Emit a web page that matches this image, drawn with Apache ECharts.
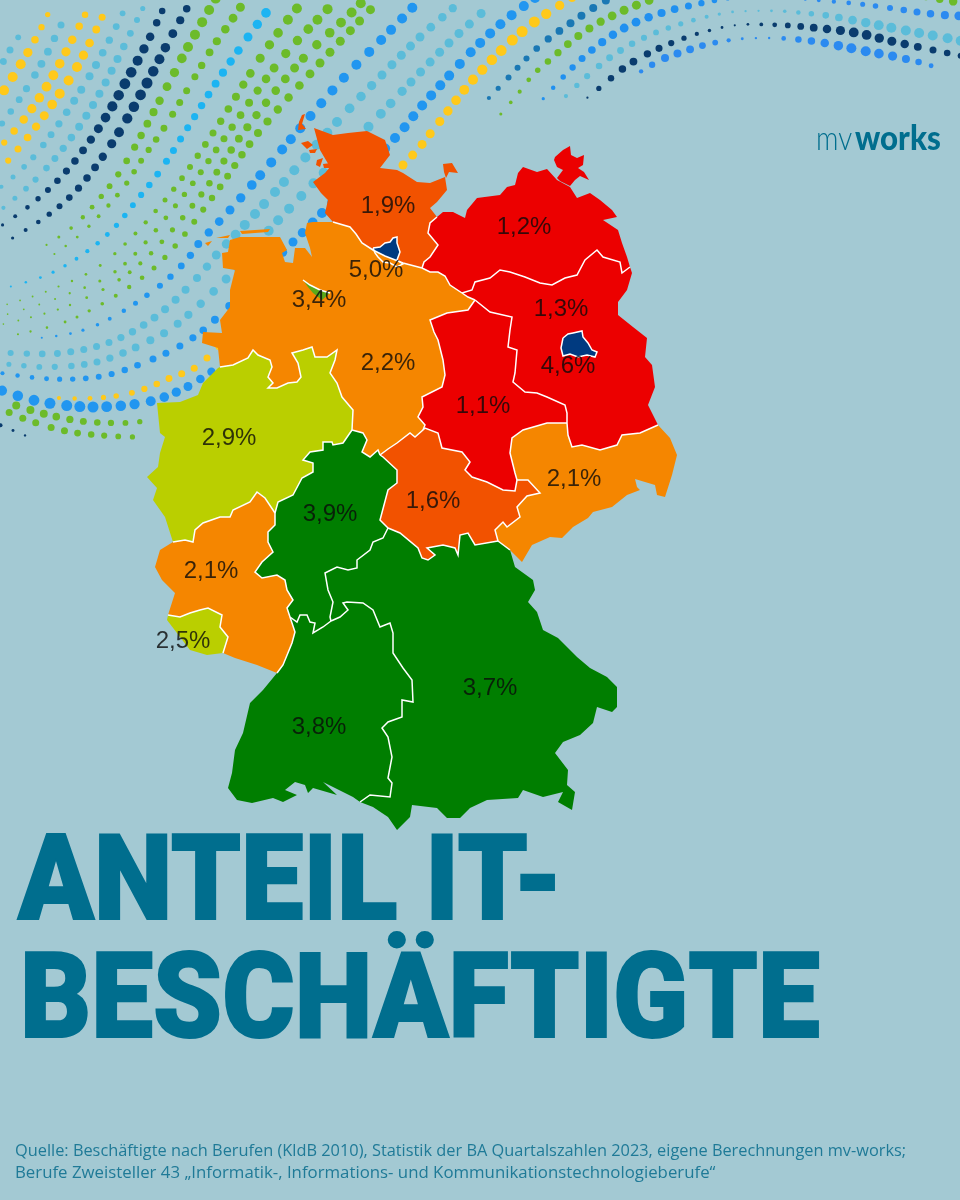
<!DOCTYPE html>
<html lang="de">
<head>
<meta charset="utf-8">
<title>Anteil IT-Beschäftigte</title>
<style>
html,body{margin:0;padding:0;background:#A3C9D3;}
#main{width:960px;height:1200px;}
</style>
<script src="https://cdn.jsdelivr.net/npm/echarts@6/dist/echarts.min.js"></script>
</head>
<body>
<div id="main"></div>
<script>
// Daten: Anteil IT-Beschaeftigte je Bundesland in %
var states = ['Schleswig-Holstein','Hamburg','Niedersachsen','Bremen','Mecklenburg-Vorpommern','Brandenburg','Berlin','Sachsen-Anhalt','Nordrhein-Westfalen','Sachsen','Thüringen','Hessen','Rheinland-Pfalz','Saarland','Baden-Württemberg','Bayern'];
var shares = [1.9,5.0,2.2,3.4,1.2,1.3,4.6,1.1,2.9,2.1,1.6,3.9,2.1,2.5,3.8,3.7];
var titleLines = ['ANTEIL IT-','BESCHÄFTIGTE'];
var sourceLines = ['Quelle: Beschäftigte nach Berufen (KldB 2010), Statistik der BA Quartalszahlen 2023, eigene Berechnungen mv-works;','Berufe Zweisteller 43 „Informatik-, Informations- und Kommunikationstechnologieberufe“'];

// Farbstufen
var classes = [
	{lt:1.5,color:'#EC0000'},
	{gte:1.5,lt:2,color:'#F25200'},
	{gte:2,lt:2.5,color:'#F58600'},
	{gte:2.5,lt:3,color:'#BACF00'},
	{gte:3,lt:3.5,color:'#5BA91A'},
	{gte:3.5,lt:4.5,color:'#007E00'},
	{gte:4.5,color:'#003A80'}
];

// Beschriftungspunkte (Bildpixel)
var labelAt = [[388,206],[376,270],[388,363],[319,300],[524,227],[561,309],[568,366],[483,406],[229,438],[574,479],[433,501],[330,514],[211,571],[183,641],[319,727],[490,688]];

// Grenzen als Boegen in Bildpixeln, gemeinsame Boegen fuer Nachbarlaender
var arcs = {
	o_sh:[[333,222],[325,213],[328,200],[321,193],[313,182],[325,173],[330,167],[320,150],[314,128],[333,135],[348,133],[367,131],[385,140],[390,155],[380,168],[397,170],[403,173],[417,182],[430,183],[445,177],[447,190],[437,202],[430,208],[437,217]],
	sh_mv:[[437,217],[430,223],[428,233],[438,245],[430,257],[424,262],[422,268]],
	sh_ni:[[422,268],[403,263],[385,256],[373,250],[362,243],[356,234],[350,227],[333,222]],
	ni_mv:[[462,293],[450,285],[445,276],[438,272],[430,272],[422,268]],
	ni_bb:[[475,300],[468,297],[462,293]],
	ni_st:[[475,300],[468,310],[447,313],[430,320],[434,332],[438,340],[443,360],[445,375],[442,387],[422,397],[423,407],[418,417],[425,425],[423,430]],
	ni_th:[[423,430],[415,437],[410,433],[397,443],[388,449],[380,455]],
	ni_he:[[380,455],[378,450],[370,457],[362,452],[367,440],[363,433],[352,430]],
	ni_nw:[[220,367],[233,365],[248,358],[253,350],[258,355],[270,360],[272,367],[268,377],[273,383],[268,388],[277,388],[288,383],[297,382],[301,377],[298,363],[292,353],[303,350],[312,347],[315,357],[327,357],[337,350],[335,360],[330,373],[337,383],[342,397],[353,410],[352,430]],
	o_ni:[[220,367],[218,348],[202,343],[203,332],[222,333],[220,320],[230,307],[230,290],[235,270],[223,268],[222,253],[228,252],[230,240],[240,237],[268,237],[280,237],[287,250],[282,253],[285,262],[293,263],[295,248],[305,248],[312,257],[310,248],[305,233],[307,223],[313,222],[333,222]],
	o_mv:[[437,217],[443,212],[453,212],[465,218],[467,210],[477,198],[500,195],[507,187],[515,185],[518,173],[523,167],[537,172],[547,169],[557,180],[570,187],[577,198],[590,193],[600,200],[612,210],[617,217],[603,220],[618,230],[622,243],[627,257],[630,267]],
	mv_bb:[[630,267],[622,273],[620,262],[603,257],[597,250],[585,260],[577,275],[565,278],[552,285],[540,283],[525,277],[510,272],[500,270],[490,278],[475,282],[472,290],[462,293]],
	o_bb:[[630,267],[632,273],[627,290],[618,302],[618,315],[633,327],[647,338],[645,357],[652,365],[655,387],[648,405],[658,425]],
	bb_sn:[[658,425],[640,433],[622,435],[617,445],[600,450],[582,445],[572,447],[568,435],[567,423]],
	bb_st:[[567,423],[567,413],[565,405],[547,397],[537,393],[525,392],[513,382],[515,373],[517,350],[508,347],[510,330],[512,317],[490,312],[475,300]],
	st_sn:[[567,423],[547,423],[523,430],[512,438],[510,453],[515,473],[517,480]],
	st_th:[[423,430],[425,428],[438,433],[442,448],[462,452],[470,462],[465,470],[472,477],[487,482],[503,490],[515,491],[517,480]],
	sn_th:[[517,480],[528,480],[540,493],[527,496],[517,507],[520,517],[507,527],[503,522],[495,530],[498,541]],
	o_sn:[[658,425],[670,438],[677,455],[672,475],[665,497],[657,495],[655,485],[635,479],[637,487],[640,490],[627,495],[612,507],[593,512],[588,518],[573,527],[562,538],[550,537],[532,545],[522,562],[510,550]],
	sn_by:[[510,550],[498,541]],
	th_by:[[498,541],[475,545],[468,533],[460,535],[458,555],[455,548],[443,545],[427,548],[435,555],[428,560],[422,558],[418,548],[400,533],[388,528]],
	he_th:[[380,455],[383,457],[397,470],[397,483],[388,490],[380,520],[388,528]],
	he_nw:[[352,430],[343,443],[333,445],[332,442],[323,442],[323,450],[310,452],[303,460],[313,463],[313,472],[302,478],[293,495],[278,502],[275,513]],
	he_by:[[388,528],[383,538],[373,542],[370,550],[357,560],[357,568],[348,570],[337,567],[325,573],[328,590],[333,602],[330,617],[331,621]],
	he_bw:[[331,621],[323,627],[313,633],[315,623],[310,622],[307,615],[300,615],[297,622],[290,617]],
	he_rp:[[290,617],[287,608],[293,600],[287,590],[285,580],[277,575],[262,578],[255,572],[262,562],[273,552],[268,542],[268,532],[275,525],[275,513]],
	nw_rp:[[275,513],[265,498],[257,492],[250,502],[233,510],[230,517],[220,517],[203,523],[195,530],[193,542],[185,540],[173,542]],
	o_nw:[[173,542],[165,517],[153,500],[157,488],[147,477],[158,467],[160,453],[165,437],[160,433],[157,403],[180,402],[198,395],[203,383],[218,368],[220,367]],
	rp_bw:[[290,617],[295,632],[292,643],[283,665],[277,673]],
	o_rps:[[277,673],[257,665],[235,658],[223,653]],
	rp_sl:[[223,653],[228,637],[220,627],[222,615],[208,608],[200,610],[190,613],[180,617],[168,615]],
	o_sl:[[223,653],[207,655],[190,650],[180,637],[167,620],[168,615]],
	o_rpw:[[168,615],[175,593],[162,580],[155,567],[160,550],[173,542]],
	bw_by:[[360,802],[370,795],[390,797],[392,783],[388,778],[392,757],[388,737],[382,728],[388,722],[402,717],[402,700],[413,702],[412,680],[403,668],[393,653],[393,633],[390,623],[380,627],[373,610],[363,603],[347,602],[343,603],[348,610],[340,617],[331,621]],
	o_by:[[510,550],[515,567],[533,580],[535,590],[528,602],[537,612],[543,630],[558,638],[577,657],[590,668],[607,677],[617,687],[617,707],[612,712],[597,707],[593,723],[580,735],[563,742],[555,753],[568,770],[567,785],[575,792],[572,810],[558,802],[563,792],[543,797],[523,790],[518,798],[487,800],[470,808],[460,818],[447,818],[437,808],[412,805],[410,817],[397,830],[388,817],[373,807],[360,802]],
	o_bw:[[277,673],[263,690],[250,703],[243,733],[235,750],[232,773],[228,788],[237,800],[252,803],[273,798],[283,802],[297,795],[285,790],[295,782],[305,785],[308,793],[313,788],[337,795],[323,782],[353,797],[360,802]]
};
// Stadtstaaten und Inseln
var hamburgRing = [[373,248],[380,247],[385,243],[390,242],[393,238],[397,237],[397,243],[400,252],[397,260],[403,264],[397,267],[390,263],[383,262],[378,257],[375,253]];
var berlinRing = [[563,338],[568,334],[573,333],[582,331],[583,337],[588,343],[592,350],[597,352],[595,357],[587,355],[578,357],[570,354],[563,356],[561,348]];
var bremenRing = [[303,280],[310,285],[320,290],[330,293],[322,300],[313,293],[308,287]];
var islandsSH = [
	[[443,164],[452,163],[458,173],[449,172],[446,178],[444,172]],
	[[302,115],[305,114],[302,124],[306,129],[298,130],[299,122]],
	[[301,143],[308,141],[313,145],[307,149]],
	[[309,150],[317,149],[315,153],[310,153]],
	[[317,160],[323,158],[320,167],[316,165]],
	[[323,164],[331,163],[330,168],[324,168]]
];
var islandsNI = [[[205,243],[212,241],[208,246]],[[216,238],[230,235],[228,238]],[[240,231],[270,229],[268,232],[242,234]]];
var ruegen = [[555,157],[563,150],[570,146],[571,155],[577,158],[584,155],[583,165],[578,168],[584,172],[589,180],[580,176],[575,180],[570,186],[560,181],[557,178],[563,170],[557,167],[554,160]];

// Wellenpunkte oben: [x,y,radius], nur Dekoration
var waves = [
	{c:'#FFC91A',p:[[57,398,2],[97,398,2.5],[135,392,3],[172,377,3.5],[207,358,3.5],[300,262,4],[403,165,4.5],[437,125,4.5],[470,83,5],[507,45,5.5],[537,20,5.5],[572,-2,4]]},
	{c:'#2196F0',p:[[0,390,5],[42,402,5.5],[93,407,5.5],[147,402,5],[185,388,4.5],[217,368,4]]},
	{c:'#2196F0',p:[[0,373,2],[51,379,2.5],[103,376,3],[153,359,3.5],[188,341,3.5],[219,316,4],[293,242,4.5],[322,213,5],[395,138,5],[420,108,5],[447,78,5],[473,50,5],[503,22,5],[535,-2,5]]},
	{c:'#5BBCD9',p:[[8,353,3],[62,353,3.5],[113,341,3.5],[158,315,4],[197,278,4],[218,253,4.5],[240,230,5],[275,192,5],[337,122,5],[382,75,4.5],[420,37,4.5],[460,2,4]]},
	{c:'#5BBCD9',p:[[7,364,2.5],[47,367,3],[97,362,3.5],[147,342,4],[181,321,4],[230,275,4.5],[272,227,5],[309,188,5],[373,122,5],[411,82,4.5],[449,43,4.5],[485,10,4.5]]},
	{c:'#2196F0',p:[[40,338,1],[77,332,1.5],[113,317,2],[157,288,3],[185,262,3.5],[200,242,4],[230,210,4.5],[263,172,5],[297,132,5],[340,82,5],[388,33,5],[415,5,5]]},
	{c:'#6CBB2A',p:[[15,335,1],[77,317,1.5],[154,268,2.5],[212,198,3.2],[258,133,4],[320,63,4.5],[373,7,4.5]]},
	{c:'#6CBB2A',p:[[0,325,0.8],[70,305,1.2],[135,268,2],[197,200,3],[243,133,4],[299,63,4.5],[347,17,5],[362,2,5]]},
	{c:'#6CBB2A',p:[[5,315,0.8],[60,297,1],[120,268,1.8],[180,200,2.6],[228,133,3.6],[278,63,4.5],[320,17,5],[335,2,5]]},
	{c:'#6CBB2A',p:[[5,305,0.8],[50,290,1],[105,262,1.5],[165,200,2.5],[213,133,3.5],[257,63,4.5],[290,17,5],[305,0,5]]},
	{c:'#1CB4F2',p:[[9,287,1],[47,275,1.5],[82,255,2],[112,230,2.5],[137,200,3],[162,168,3.5],[190,124,3.5],[218,80,4],[248,37,4.5],[272,5,5]]},
	{c:'#6CBB2A',p:[[53,255,1],[83,232,1.5],[120,192,2.5],[143,158,3],[166,125,3.5],[193,80,3.5],[213,47,4],[236,14,4.5],[243,3,4.5]]},
	{c:'#6CBB2A',p:[[45,246,1],[77,223,2],[112,183,3],[133,150,3.5],[152,115,4],[170,81,4.5],[188,47,5],[208,12,5],[216,-2,5]]},
	{c:'#0A3C6E',p:[[11,239,1.5],[44,218,2.5],[74,193,3.5],[99,162,4],[121,129,5],[147,83,5.5],[171,37,4.5],[190,3,3.5]]},
	{c:'#0A3C6E',p:[[1,226,1.5],[33,203,2.5],[62,176,3.5],[87,145,4],[109,112,5],[128,78,5.5],[147,43,4.5],[164,7,3]]},
	{c:'#5BBCD9',p:[[2,209,2],[31,184,3],[57,156,3.5],[81,124,4],[101,91,4],[119,56,4],[137,20,3],[143,8,2.5]]},
	{c:'#5BBCD9',p:[[0,188,2],[29,162,3],[53,132,3.5],[76,98,4],[96,65,4],[115,29,3.5],[126,6,2.5]]},
	{c:'#FFC91A',p:[[7,162,3],[32,132,4],[56,99,5],[77,67,5],[95,32,4],[107,7,3]]},
	{c:'#FFC91A',p:[[3,144,3],[28,114,4.5],[50,81,5],[69,46,4.5],[87,11,3]]},
	{c:'#5BBCD9',p:[[1,125,3],[23,94,3.5],[43,61,4],[61,25,3.5],[67,14,3]]},
	{c:'#FFC91A',p:[[3,92,5],[24,59,5],[37,36,3.5],[49,12,2.5]]},
	{c:'#5BBCD9',p:[[3,62,3.5],[10,50,3.5],[23,30,2.5]]},
	{c:'#6CBB2A',p:[[8,412,3.5],[33,422,3.5],[71,432,3.5],[110,436,3],[137,437,2.5]]},
	{c:'#6CBB2A',p:[[15,405,4],[41,413,4],[80,421,3.5],[120,423,3],[146,421,2.5]]},
	{c:'#0A3C6E',p:[[0,425,2],[12,430,1.5],[24,435,1.2],[36,440,1]]},
	{c:'#1A78B4',p:[[488,99,2],[507,79,3],[525,60,3],[543,43,3.5],[565,27,4],[587,12,4],[610,-2,4]]},
	{c:'#6CBB2A',p:[[500,115,1.5],[517,95,2],[533,75,2.5],[553,57,3.5],[573,40,4],[595,25,4],[618,13,4.5],[642,3,4.5],[660,-3,4]]},
	{c:'#2090F0',p:[[542,100,1.5],[568,72,3],[597,46,4],[630,25,4.5],[668,11,4],[707,2,3],[730,-2,2]]},
	{c:'#5BBCD9',p:[[565,97,2],[585,78,3],[615,54,3.5],[650,35,3],[687,22,2.5],[725,13,1.5],[752,11,1],[778,11,1.5],[805,13,2.5],[830,16,3.5],[857,21,4.5],[883,26,5],[908,31,5],[935,36,5],[962,41,5]]},
	{c:'#0A3C6E',p:[[587,98,1],[597,90,2.5],[628,65,4],[662,47,3.5],[700,33,2],[738,25,1],[778,25,2.5],[817,28,4],[857,33,5],[895,42,4.5],[933,50,3.5],[962,56,3]]},
	{c:'#2B8AF0',p:[[640,72,2],[663,59,4],[688,50,4],[713,43,3],[740,39,1.5],[767,38,1],[792,39,3],[818,42,4],[845,47,5],[870,52,5],[897,57,4.5],[922,63,3],[935,67,2]]},
	{c:'#2B8AF0',p:[[790,-2,1],[825,1,2],[860,4,2.5],[890,8,3],[917,12,3.5],[943,15,4],[962,16,4.5]]},
	{c:'#6CBB2A',p:[[925,-3,3],[945,0,4],[962,3,4.5]]}
];

function flip(list){
	var out = [];
	for(var i = 0;i<list.length;i++){
		out.push([list[i][0],-list[i][1]]);
	}
	return out;
}
// Ring aus Boegen zusammensetzen, '-' dreht den Bogen um
function ring(names){
	var pts = [];
	for(var i = 0;i<names.length;i++){
		var n = names[i];
		var a = n.charAt(0) == '-' ? arcs[n.substring(1)].slice().reverse() : arcs[n];
		pts = pts.concat(a);
	}
	pts.push(pts[0]);
	return flip(pts);
}
function closed(list){
	return flip(list.concat([list[0]]));
}
var shapes = {
	'Schleswig-Holstein':[ring(['o_sh','sh_mv','sh_ni'])].concat(islandsSH.map(closed)),
	'Hamburg':[closed(hamburgRing)],
	'Niedersachsen':[ring(['-sh_ni','-ni_mv','-ni_bb','ni_st','ni_th','ni_he','-ni_nw','o_ni'])].concat(islandsNI.map(closed)),
	'Bremen':[closed(bremenRing)],
	'Mecklenburg-Vorpommern':[ring(['o_mv','mv_bb','ni_mv','-sh_mv']),closed(ruegen)],
	'Brandenburg':[ring(['o_bb','bb_sn','bb_st','ni_bb','-mv_bb'])],
	'Berlin':[closed(berlinRing)],
	'Sachsen-Anhalt':[ring(['ni_st','st_th','-st_sn','bb_st'])],
	'Nordrhein-Westfalen':[ring(['ni_nw','he_nw','nw_rp','o_nw'])],
	'Sachsen':[ring(['-bb_sn','o_sn','sn_by','-sn_th','-st_sn'])],
	'Thüringen':[ring(['st_th','sn_th','th_by','-he_th','-ni_th'])],
	'Hessen':[ring(['-ni_he','he_th','he_by','he_bw','he_rp','-he_nw'])],
	'Rheinland-Pfalz':[ring(['-he_rp','rp_bw','o_rps','rp_sl','o_rpw','-nw_rp'])],
	'Saarland':[ring(['-rp_sl','-o_sl'])],
	'Baden-Württemberg':[ring(['-he_bw','-bw_by','-o_bw','-rp_bw'])],
	'Bayern':[ring(['-he_by','-th_by','-sn_by','o_by','bw_by'])]
};
var geoJson = {type:'FeatureCollection',features:[]};
for(var i = 0;i<states.length;i++){
	var rings = shapes[states[i]];
	geoJson.features.push({
		type:'Feature',
		properties:{name:states[i]},
		geometry:{type:'MultiPolygon',coordinates:rings.map(function(r){return [r];})}
	});
}
echarts.registerMap('de',geoJson);

// innere Grenzen als weisse Linien
var innerNames = ['sh_mv','sh_ni','ni_mv','ni_bb','ni_st','ni_th','ni_he','ni_nw','mv_bb','bb_sn','bb_st','st_sn','st_th','sn_th','sn_by','th_by','he_th','he_nw','he_by','he_bw','he_rp','nw_rp','rp_bw','rp_sl','bw_by'];
var borderData = [];
for(var i = 0;i<innerNames.length;i++){
	borderData.push({coords:flip(arcs[innerNames[i]])});
}
borderData.push({coords:closed(hamburgRing)});
borderData.push({coords:closed(berlinRing)});
borderData.push({coords:flip(bremenRing.slice(0,4))});

var mapData = [];
var labelData = [];
for(var i = 0;i<states.length;i++){
	mapData.push({name:states[i],value:shares[i]});
	labelData.push([labelAt[i][0],-labelAt[i][1],shares[i]]);
}

// Catmull-Rom durch die Wellenpunkte, Punkte im festen Abstand
function waveDots(wave,step){
	var p = wave.p;
	var fine = [];
	for(var i = 0;i<p.length-1;i++){
		var a = p[Math.max(i-1,0)],b = p[i],c = p[i+1],d = p[Math.min(i+2,p.length-1)];
		for(var k = 0;k<12;k++){
			var t = k/12,t2 = t*t,t3 = t2*t;
			fine.push([
				0.5*(2*b[0]+(c[0]-a[0])*t+(2*a[0]-5*b[0]+4*c[0]-d[0])*t2+(3*b[0]-a[0]-3*c[0]+d[0])*t3),
				0.5*(2*b[1]+(c[1]-a[1])*t+(2*a[1]-5*b[1]+4*c[1]-d[1])*t2+(3*b[1]-a[1]-3*c[1]+d[1])*t3),
				b[2]+(c[2]-b[2])*t
			]);
		}
	}
	fine.push(p[p.length-1]);
	var els = [];
	var left = step;
	for(var j = 1;j<fine.length;j++){
		var dx = fine[j][0]-fine[j-1][0],dy = fine[j][1]-fine[j-1][1];
		left += Math.sqrt(dx*dx+dy*dy);
		if(left >= step){
			left = 0;
			els.push({type:'circle',silent:true,shape:{cx:fine[j][0],cy:fine[j][1],r:fine[j][2]},style:{fill:wave.c}});
		}
	}
	return els;
}
var graphicEls = [];
for(var i = 0;i<waves.length;i++){
	graphicEls = graphicEls.concat(waveDots(waves[i],12.8));
}
// Titel, Logo, Quelle
var titleColor = '#006E8E';
graphicEls.push({type:'text',silent:true,x:18,y:889,scaleX:0.945,style:{text:titleLines[0],font:'900 118px Roboto',fill:titleColor,stroke:titleColor,lineWidth:2,lineJoin:'round',verticalAlign:'middle'}});
graphicEls.push({type:'text',silent:true,x:20,y:1007,scaleX:0.936,style:{text:titleLines[1],font:'900 118px Roboto',fill:titleColor,stroke:titleColor,lineWidth:2,lineJoin:'round',verticalAlign:'middle'}});
graphicEls.push({type:'text',silent:true,x:816,y:139,scaleX:0.82,style:{text:'mv',font:'300 34px Lato',fill:titleColor,verticalAlign:'middle'}});
graphicEls.push({type:'text',silent:true,x:855,y:139,scaleX:0.92,style:{text:'works',font:'900 34px Lato',fill:titleColor,verticalAlign:'middle'}});
graphicEls.push({type:'text',silent:true,x:15,y:1151,style:{text:sourceLines[0],font:'16.35px "Open Sans"',fill:'#1F7A97',verticalAlign:'middle'}});
graphicEls.push({type:'text',silent:true,x:15,y:1173,scaleX:1.028,style:{text:sourceLines[1],font:'16.35px "Open Sans"',fill:'#1F7A97',verticalAlign:'middle'}});

var frame = [[0,0],[960,-1200]];
var myChart = echarts.init(document.getElementById('main'));
var option = {
	backgroundColor:'#A3C9D3',
	animation:false,
	graphic:{elements:graphicEls},
	visualMap:{type:'piecewise',show:false,seriesIndex:0,pieces:classes},
	geo:{
		map:'de',
		silent:true,
		aspectScale:1,
		left:0,right:0,top:0,bottom:0,
		boundingCoords:frame,
		itemStyle:{areaColor:'transparent',borderWidth:0},
		emphasis:{disabled:true}
	},
	series:[
		{
			type:'map',
			map:'de',
			silent:true,
			aspectScale:1,
			left:0,right:0,top:0,bottom:0,
			boundingCoords:frame,
			label:{show:false},
			itemStyle:{borderWidth:0},
			emphasis:{disabled:true},
			data:mapData,
			z:2
		},
		{
			type:'lines',
			coordinateSystem:'geo',
			polyline:true,
			silent:true,
			lineStyle:{color:'#fff',width:1.5,opacity:1},
			data:borderData,
			z:3
		},
		{
			type:'scatter',
			coordinateSystem:'geo',
			silent:true,
			symbolSize:0,
			label:{
				show:true,
				position:'inside',
				color:'#0a0a0a',
				fontFamily:'"Liberation Sans"',
				fontSize:24,
				formatter:function(params){
					return params.value[2].toFixed(1).replace('.',',')+'%';
				}
			},
			data:labelData,
			z:5
		}
	]
};
myChart.setOption(option);
</script>
</body>
</html>
